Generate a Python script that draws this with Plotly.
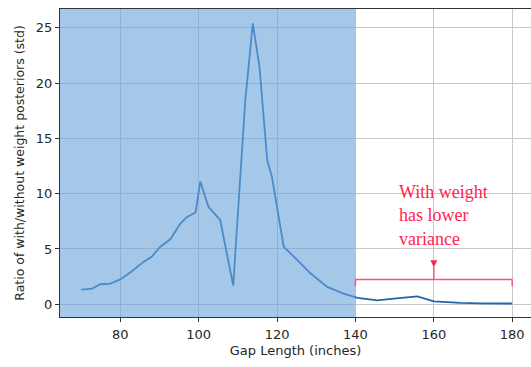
import plotly.graph_objects as go

# Data
gap_length = [70, 72.8, 74.9, 77.4, 80, 82.6, 85.9, 88, 90.2, 92.8, 95.3, 97, 99.2,
              100.4, 102.5, 105.5, 107, 108.8, 111.9, 113.8, 115.5, 117.5, 118.7,
              121.7, 124.3, 128.5, 132.8, 137, 140.5, 145.6, 149.8, 155.8, 160,
              166.8, 172, 180]
ratio_std = [1.33, 1.42, 1.81, 1.87, 2.25, 2.9, 3.83, 4.3, 5.2, 5.9, 7.3, 7.9, 8.3,
             11.1, 8.8, 7.6, 4.9, 1.7, 18.5, 25.4, 21.5, 13.0, 11.5,
             5.2, 4.3, 2.8, 1.57, 0.97, 0.57, 0.36, 0.51, 0.72, 0.27,
             0.12, 0.08, 0.07]

x_ticks = [80, 100, 120, 140, 160, 180]
y_ticks = [0, 5, 10, 15, 20, 25]
X_RANGE = [64.6, 184.8]
Y_RANGE = [-1.15, 26.7]
SHADE_END = 140
BRACKET = [140, 180]
BRACKET_Y = 2.24
ANNOT_TEXT = "With weight<br>has lower<br>variance"

red = "#ff2350"
pink = "#ff5078"

fig = go.Figure()
fig.add_trace(go.Scatter(x=gap_length, y=ratio_std, mode="lines",
                         line=dict(color="#1f66ad", width=1.8),
                         showlegend=False, hoverinfo="skip"))

shapes = [
    dict(type="rect", xref="x", yref="paper", x0=X_RANGE[0], x1=SHADE_END, y0=0, y1=1,
         fillcolor="rgb(105,163,217)", opacity=0.6, line=dict(width=0), layer="above"),
    dict(type="line", xref="x", yref="y", x0=BRACKET[0], x1=BRACKET[1], y0=BRACKET_Y, y1=BRACKET_Y,
         line=dict(color=pink, width=1.5)),
    dict(type="line", xref="x", yref="y", x0=BRACKET[1], x1=BRACKET[1], y0=BRACKET_Y, y1=BRACKET_Y - 0.6,
         line=dict(color=pink, width=1.5)),
    dict(type="line", xref="x", yref="y", x0=BRACKET[0], x1=BRACKET[0], y0=BRACKET_Y, y1=BRACKET_Y - 0.6,
         line=dict(color=pink, width=1.5)),
    dict(type="line", xref="x", yref="y", x0=160, x1=160, y0=BRACKET_Y, y1=3.4,
         line=dict(color=pink, width=1.5)),
]

annotations = [
    dict(x=150.7, y=11.2, xref="x", yref="y", text=ANNOT_TEXT, showarrow=False,
         xanchor="left", yanchor="top", align="left",
         font=dict(family="Liberation Serif", size=18, color=red)),
    dict(x=160, y=3.35, ax=160, ay=4.0, xref="x", yref="y", axref="x", ayref="y",
         text="", showarrow=True, arrowhead=2, arrowsize=1, arrowwidth=1.4, arrowcolor=red),
]

axis_font = dict(family="DejaVu Sans", size=13, color="#262626")
fig.update_layout(
    width=531, height=367,
    margin=dict(l=60, r=0, t=9, b=50),
    paper_bgcolor="white", plot_bgcolor="white",
    shapes=shapes, annotations=annotations,
    xaxis=dict(range=X_RANGE, tickvals=x_ticks, ticks="outside", ticklen=4, tickcolor="#333",
               showgrid=True, gridcolor="#c8c8c8", gridwidth=1, zeroline=False,
               showline=True, linecolor="#333", linewidth=1, mirror=True,
               tickfont=axis_font, automargin=False, ticklabelstandoff=1,
               title=dict(text="Gap Length (inches)", font=axis_font, standoff=5)),
    yaxis=dict(range=Y_RANGE, tickvals=y_ticks, ticks="outside", ticklen=4, tickcolor="#333",
               showgrid=True, gridcolor="#c8c8c8", gridwidth=1, zeroline=False,
               showline=True, linecolor="#333", linewidth=1, mirror=True,
               tickfont=axis_font, automargin=False,
               title=dict(text="Ratio of with/without weight posteriors (std)",
                          font=dict(family="DejaVu Sans", size=12.5, color="#262626"), standoff=8)),
)

fig.write_html("out.html", config={"displayModeBar": False},
               post_script="document.body.style.margin='0';")
